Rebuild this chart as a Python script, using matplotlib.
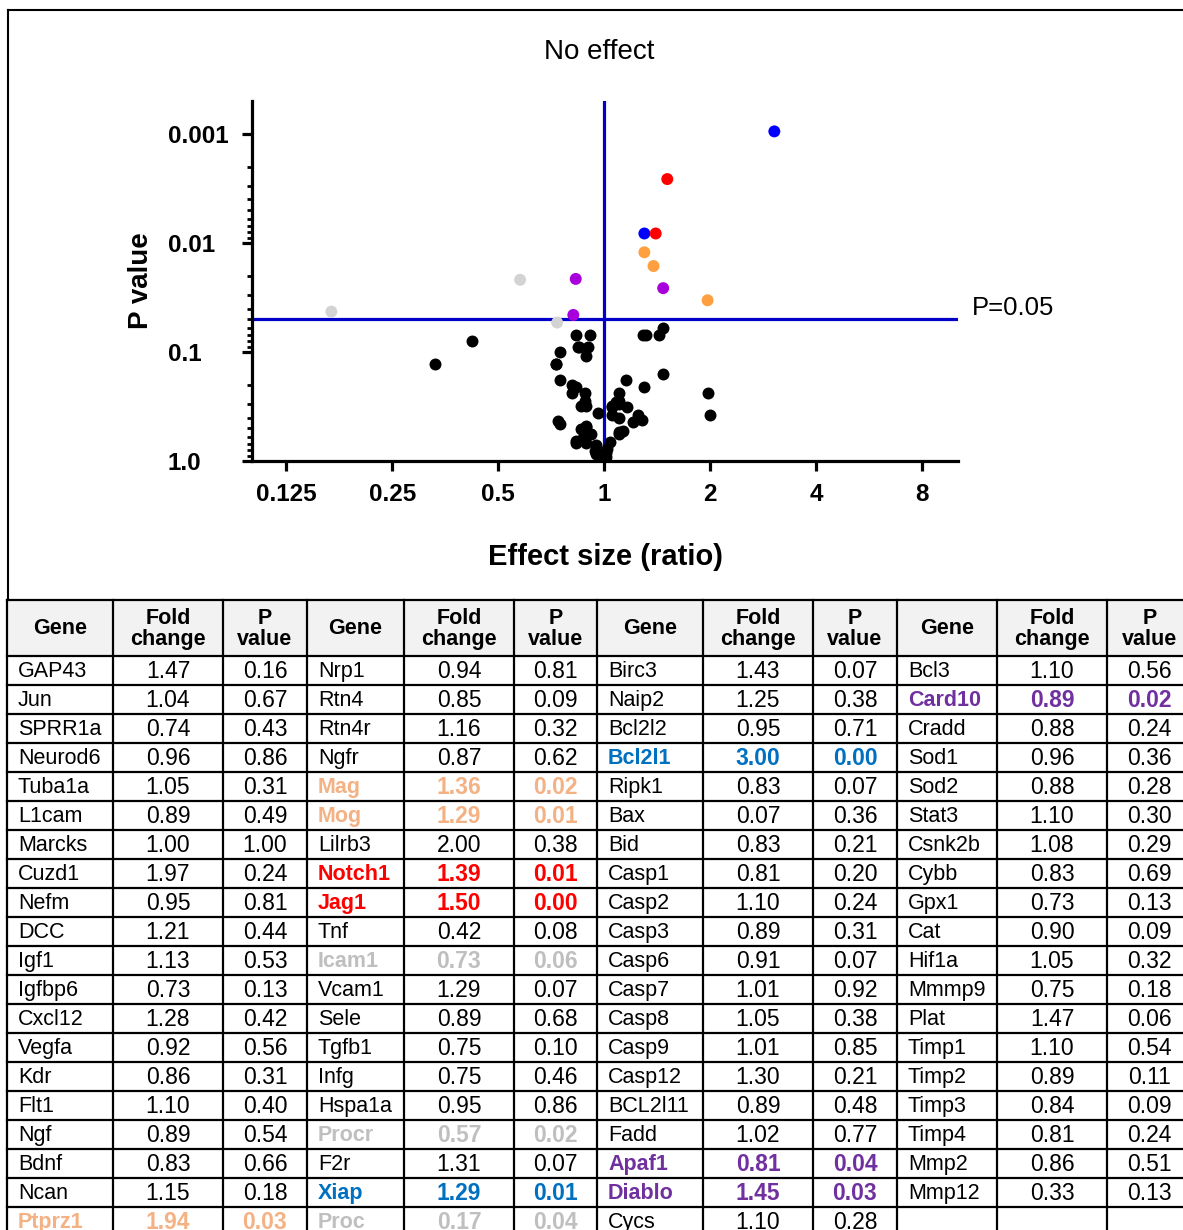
import matplotlib
matplotlib.use('Agg')
import matplotlib.pyplot as plt
from matplotlib import font_manager
from matplotlib.ticker import FixedLocator, NullLocator
import numpy as np

# ---- table data (4 blocks of Gene / Fold change / P value) ----
genes_1 = ['GAP43', 'Jun', 'SPRR1a', 'Neurod6', 'Tuba1a', 'L1cam', 'Marcks', 'Cuzd1', 'Nefm', 'DCC',
           'Igf1', 'Igfbp6', 'Cxcl12', 'Vegfa', 'Kdr', 'Flt1', 'Ngf', 'Bdnf', 'Ncan', 'Ptprz1']
fold_1 = [1.47, 1.04, 0.74, 0.96, 1.05, 0.89, 1.00, 1.97, 0.95, 1.21,
          1.13, 0.73, 1.28, 0.92, 0.86, 1.10, 0.89, 0.83, 1.15, 1.94]
pval_1 = [0.16, 0.67, 0.43, 0.86, 0.31, 0.49, 1.00, 0.24, 0.81, 0.44,
          0.53, 0.13, 0.42, 0.56, 0.31, 0.40, 0.54, 0.66, 0.18, 0.03]

genes_2 = ['Nrp1', 'Rtn4', 'Rtn4r', 'Ngfr', 'Mag', 'Mog', 'Lilrb3', 'Notch1', 'Jag1', 'Tnf',
           'Icam1', 'Vcam1', 'Sele', 'Tgfb1', 'Infg', 'Hspa1a', 'Procr', 'F2r', 'Xiap', 'Proc']
fold_2 = [0.94, 0.85, 1.16, 0.87, 1.36, 1.29, 2.00, 1.39, 1.50, 0.42,
          0.73, 1.29, 0.89, 0.75, 0.75, 0.95, 0.57, 1.31, 1.29, 0.17]
pval_2 = [0.81, 0.09, 0.32, 0.62, 0.02, 0.01, 0.38, 0.01, 0.00, 0.08,
          0.06, 0.07, 0.68, 0.10, 0.46, 0.86, 0.02, 0.07, 0.01, 0.04]

genes_3 = ['Birc3', 'Naip2', 'Bcl2l2', 'Bcl2l1', 'Ripk1', 'Bax', 'Bid', 'Casp1', 'Casp2', 'Casp3',
           'Casp6', 'Casp7', 'Casp8', 'Casp9', 'Casp12', 'BCL2l11', 'Fadd', 'Apaf1', 'Diablo', 'Cycs']
fold_3 = [1.43, 1.25, 0.95, 3.00, 0.83, 0.07, 0.83, 0.81, 1.10, 0.89,
          0.91, 1.01, 1.05, 1.01, 1.30, 0.89, 1.02, 0.81, 1.45, 1.10]
pval_3 = [0.07, 0.38, 0.71, 0.00, 0.07, 0.36, 0.21, 0.20, 0.24, 0.31,
          0.07, 0.92, 0.38, 0.85, 0.21, 0.48, 0.77, 0.04, 0.03, 0.28]

genes_4 = ['Bcl3', 'Card10', 'Cradd', 'Sod1', 'Sod2', 'Stat3', 'Csnk2b', 'Cybb', 'Gpx1', 'Cat',
           'Hif1a', 'Mmmp9', 'Plat', 'Timp1', 'Timp2', 'Timp3', 'Timp4', 'Mmp2', 'Mmp12']
fold_4 = [1.10, 0.89, 0.88, 0.96, 0.88, 1.10, 1.08, 0.83, 0.73, 0.90,
          1.05, 0.75, 1.47, 1.10, 0.89, 0.84, 0.81, 0.86, 0.33]
pval_4 = [0.56, 0.02, 0.24, 0.36, 0.28, 0.30, 0.29, 0.69, 0.13, 0.09,
          0.32, 0.18, 0.06, 0.54, 0.11, 0.09, 0.24, 0.51, 0.13]

# highlighted genes (table p values are rounded)
hi_genes = ['Bcl2l1', 'Xiap', 'Jag1', 'Notch1', 'Mog', 'Mag', 'Ptprz1',
            'Diablo', 'Card10', 'Apaf1', 'Procr', 'Icam1', 'Proc']
hi_fold = [3.04, 1.30, 1.51, 1.40, 1.30, 1.38, 1.965, 1.47, 0.83, 0.817, 0.577, 0.735, 0.168]
hi_pval = [0.00095, 0.0082, 0.0026, 0.0082, 0.0122, 0.0163, 0.0336,
           0.026, 0.0214, 0.0458, 0.0218, 0.0538, 0.0427]
hi_group = ['blue', 'blue', 'red', 'red', 'orange', 'orange', 'orange',
            'purple', 'purple', 'purple', 'grey', 'grey', 'grey']

plot_colors = {'blue': '#0000FF', 'red': '#FF0000', 'orange': '#FFA040',
               'purple': '#A800DC', 'grey': '#D3D3D3'}
table_colors = {'blue': '#0070C0', 'red': '#FF0000', 'orange': '#F4B183',
                'purple': '#7030A0', 'grey': '#BFBFBF'}
gene_group = dict(zip(hi_genes, hi_group))

names = {f.name for f in font_manager.fontManager.ttflist}
plot_font = 'Liberation Sans' if 'Liberation Sans' in names else 'DejaVu Sans'
narrow = 'Liberation Sans Narrow' in names
narrow_font = 'Liberation Sans Narrow' if narrow else plot_font
plt.rcParams['font.family'] = plot_font

W, H = 1183, 1230
fig = plt.figure(figsize=(W / 100, H / 100), dpi=100)

# ---- volcano plot ----
ax = fig.add_axes([252 / W, 1 - 461 / H, (958 - 252) / W, (461 - 101) / H])

all_genes = genes_1 + genes_2 + genes_3 + genes_4
all_fold = fold_1 + fold_2 + fold_3 + fold_4
all_pval = pval_1 + pval_2 + pval_3 + pval_4
bx = [f for g, f, p in zip(all_genes, all_fold, all_pval) if g not in gene_group]
by = [p for g, f, p in zip(all_genes, all_fold, all_pval) if g not in gene_group]

ax.axhline(0.05, color='#0000C8', lw=2.3, zorder=2)
ax.axvline(1.0, color='#0000C8', lw=2.3, zorder=2)
ax.scatter(bx, by, s=74, c='black', linewidths=0, zorder=3)
ax.scatter(hi_fold, hi_pval, s=74, c=[plot_colors[g] for g in hi_group], linewidths=0, zorder=4)

ax.set_xscale('log', base=2)
ax.set_yscale('log')
ax.set_xlim(0.1, 10.1)
ax.set_ylim(1.0, 0.0005)
ax.set_xticks([0.125, 0.25, 0.5, 1, 2, 4, 8])
ax.set_xticklabels(['0.125', '0.25', '0.5', '1', '2', '4', '8'])
ax.xaxis.set_minor_locator(NullLocator())
ax.set_yticks([1.0, 0.1, 0.01, 0.001])
ax.set_yticklabels(['1.0', '0.1', '0.01', '0.001'])
minor = [m * 10.0 ** e for e in (-3, -2, -1) for m in range(2, 10)]
ax.yaxis.set_minor_locator(FixedLocator(minor))
ax.yaxis.set_minor_formatter(plt.NullFormatter())

for s in ['top', 'right']:
    ax.spines[s].set_visible(False)
for s in ['left', 'bottom']:
    ax.spines[s].set_linewidth(2.3)
ax.tick_params(axis='both', which='major', length=7.5, width=2.3, direction='out',
               labelsize=17.5)
ax.tick_params(axis='y', which='minor', length=3.8, width=2, direction='out')
ax.tick_params(axis='y', which='major', pad=53)
ax.tick_params(axis='x', which='major', pad=8)
for lab in ax.get_yticklabels():
    lab.set_horizontalalignment('left')
    lab.set_fontweight('bold')
for lab in ax.get_xticklabels():
    lab.set_fontweight('bold')

fig.text(599 / W, 1 - 52 / H, 'No effect', ha='center', va='center', fontsize=20)
fig.text(141 / W, 1 - 281 / H, 'P value', ha='center', va='center', rotation=90,
         fontsize=20, fontweight='bold')
fig.text(605 / W, 1 - 557 / H, 'Effect size (ratio)', ha='center', va='center',
         fontsize=21, fontweight='bold')
fig.text(972 / W, 1 - 308 / H, 'P=0.05', ha='left', va='center', fontsize=18.5)

# ---- frame and table, drawn in pixel coordinates ----
tx = fig.add_axes([0, 0, 1, 1])
tx.set_xlim(0, W)
tx.set_ylim(H, 0)
tx.axis('off')
tx.set_facecolor('none')

tx.plot([8, W], [10, 10], color='black', lw=1.5)
tx.plot([8, 8], [10, 600], color='black', lw=1.5)

groups = [(genes_1, fold_1, pval_1, [7, 113, 223, 307]),
          (genes_2, fold_2, pval_2, [307, 404, 514, 597]),
          (genes_3, fold_3, pval_3, [597, 703, 813, 897]),
          (genes_4, fold_4, pval_4, [897, 997, 1107, 1192])]
top, head_h, row_h, n_rows = 600, 56, 29, 20
bottom = top + head_h + row_h * n_rows

tx.fill_between([7, 1192], top, top + head_h, color='#F2F2F2', lw=0, zorder=0)
for i in range(n_rows + 2):
    y = top if i == 0 else top + head_h + row_h * (i - 1)
    tx.plot([7, 1192], [y, y], color='black', lw=1.6, zorder=2)
edges = sorted({e for g in groups for e in g[3]})
for x in edges:
    tx.plot([x, x], [top, bottom], color='black', lw=1.6, zorder=2)

fs = 16.5
fs_gene = 16.5 if narrow else 15.5
fs_head = 16.5 if narrow else 15.5
for genes, fold, pval, ed in groups:
    c_gene = (ed[0] + ed[1]) / 2
    c_fold = (ed[1] + ed[2]) / 2
    c_p = (ed[2] + ed[3]) / 2
    tx.text(c_gene, top + head_h / 2, 'Gene', ha='center', va='center', fontsize=fs_head,
            fontweight='bold', family=narrow_font)
    tx.text(c_fold, top + head_h / 2 + 1, 'Fold\nchange', ha='center', va='center',
            fontsize=fs_head, fontweight='bold', family=narrow_font, linespacing=0.95)
    tx.text(c_p, top + head_h / 2 + 1, 'P\nvalue', ha='center', va='center',
            fontsize=fs_head, fontweight='bold', family=narrow_font, linespacing=0.95)
    for i, (g, f, p) in enumerate(zip(genes, fold, pval)):
        yc = top + head_h + row_h * i + row_h / 2 + 1
        grp = gene_group.get(g)
        col = table_colors[grp] if grp else 'black'
        wt = 'bold' if grp else 'normal'
        tx.text(ed[0] + 11, yc, g, ha='left', va='center', fontsize=fs_gene, color=col,
                fontweight=wt, family=narrow_font)
        tx.text(c_fold, yc, f'{f:.2f}', ha='center', va='center', fontsize=fs, color=col,
                fontweight=wt)
        tx.text(c_p, yc, f'{p:.2f}', ha='center', va='center', fontsize=fs, color=col,
                fontweight=wt)

fig.savefig('out.png', dpi=100)
